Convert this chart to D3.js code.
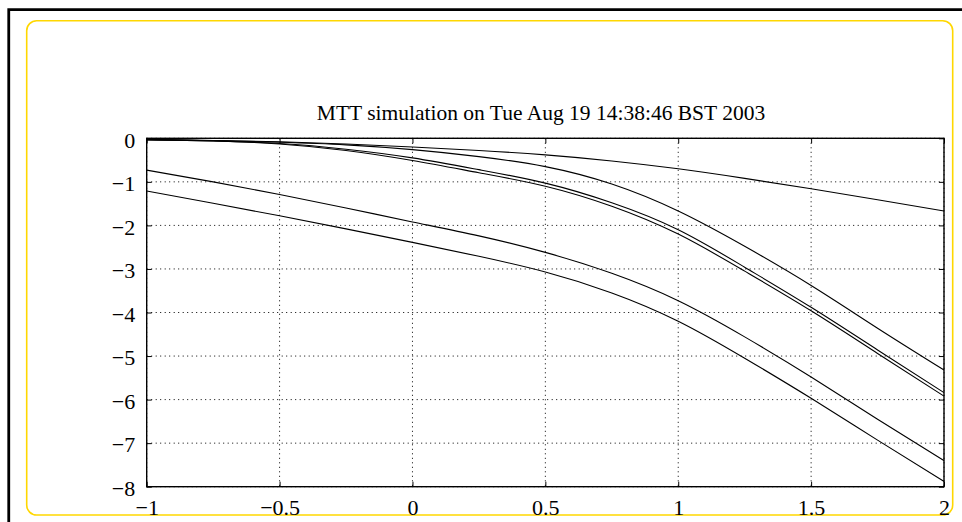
<!DOCTYPE html>
<html>
<head>
<meta charset="utf-8">
<script src="https://cdn.jsdelivr.net/npm/d3@7"></script>
<style>
  body { margin: 0; background: #fff; }
  svg { display: block; }
  text { font-family: "Liberation Serif", "Times New Roman", serif; fill: #000; }
</style>
</head>
<body>
<svg width="962" height="522"></svg>
<script>
// sample points (x) and the six response curves
let xs = [-1, -0.75, -0.5, -0.25, 0, 0.25, 0.5, 0.75, 1, 1.25, 1.5, 1.75, 2]
let curve1 = [-0.03, -0.05, -0.08, -0.13, -0.20, -0.28, -0.38, -0.52, -0.70, -0.92, -1.16, -1.41, -1.67]
let curve2 = [-0.03, -0.05, -0.09, -0.15, -0.26, -0.42, -0.65, -1.05, -1.67, -2.48, -3.38, -4.36, -5.32]
let curve3 = [-0.03, -0.06, -0.12, -0.25, -0.45, -0.72, -1.03, -1.48, -2.10, -2.96, -3.88, -4.86, -5.84]
let curve4 = [-0.03, -0.06, -0.13, -0.28, -0.51, -0.79, -1.10, -1.56, -2.20, -3.05, -3.96, -4.94, -5.92]
let curve5 = [-0.73, -1.00, -1.29, -1.60, -1.92, -2.24, -2.62, -3.10, -3.73, -4.56, -5.48, -6.45, -7.40]
let curve6 = [-1.21, -1.49, -1.78, -2.08, -2.39, -2.71, -3.07, -3.55, -4.20, -5.05, -5.97, -6.93, -7.88]
let curves = [curve1, curve2, curve3, curve4, curve5, curve6]

let xTicks = [-1, -0.5, 0, 0.5, 1, 1.5, 2]
let yTicks = [0, -1, -2, -3, -4, -5, -6, -7, -8]
let title = 'MTT simulation on Tue Aug 19 14:38:46 BST 2003'

let svg = d3.select('svg')

// outer frame bits
svg.append('path')
    .attr('d', 'M8.75,540V9.6H980')
    .style('fill', 'none').style('stroke', '#000').style('stroke-width', 2.8)

svg.append('rect')
    .attr('x', 26.7).attr('y', 20.7).attr('width', 926).attr('height', 494.3)
    .attr('rx', 10).attr('ry', 10)
    .style('fill', 'none').style('stroke', '#ffd700').style('stroke-width', 1.6)

let pL = 146.7, pR = 944, pT = 138.3, pB = 486.7

let x = d3.scaleLinear().domain([-1, 2]).range([pL, pR])
let y = d3.scaleLinear().domain([-8, 0]).range([pB, pT])

let g = svg.append('g')

// dotted grid
g.selectAll('.gx').data(xTicks).enter().append('line')
    .attr('x1', d => x(d)).attr('x2', d => x(d))
    .attr('y1', pT).attr('y2', pB)
    .style('stroke', '#000').style('stroke-width', 1).style('stroke-dasharray', '1,3.5')
g.selectAll('.gy').data(yTicks).enter().append('line')
    .attr('x1', pL).attr('x2', pR)
    .attr('y1', d => y(d)).attr('y2', d => y(d))
    .style('stroke', '#000').style('stroke-width', 1).style('stroke-dasharray', '1,3.5')

// axes: ticks inward on all four sides
let tick = 5
let minus = d => (d < 0 ? '\u2212' : '') + Math.abs(d)
let axes = [
    d3.axisBottom(x).tickValues(xTicks).tickSize(-tick).tickFormat(minus),
    d3.axisTop(x).tickValues(xTicks).tickSize(-tick).tickFormat(''),
    d3.axisLeft(y).tickValues(yTicks).tickSize(-tick).tickFormat(minus),
    d3.axisRight(y).tickValues(yTicks).tickSize(-tick).tickFormat('')
]
let pos = [[0, pB], [0, pT], [pL, 0], [pR, 0]]
let axG = axes.map((a, i) => {
    let ax = g.append('g').attr('transform', `translate(${pos[i][0]},${pos[i][1]})`).call(a)
    ax.select('.domain').remove()
    ax.selectAll('line').style('stroke', '#000').style('stroke-width', 1)
    ax.selectAll('text').style('font-family', '"Liberation Serif", serif').style('font-size', '22px')
    return ax
})

// x labels sit low, y labels a bit right of the default
axG[0].selectAll('text').attr('y', 12.5).attr('dy', '0.71em')
axG[2].selectAll('text').attr('x', -11.5).attr('dy', '0.4em')

g.append('rect')
    .attr('x', pL).attr('y', pT).attr('width', pR - pL).attr('height', pB - pT)
    .style('fill', 'none').style('stroke', '#000').style('stroke-width', 1.4)

let line = d3.line()
    .x((d, i) => x(xs[i]))
    .y(d => y(d))
    .curve(d3.curveNatural)

g.selectAll('.curve').data(curves).enter().append('path')
    .attr('class', 'curve')
    .attr('d', line)
    .style('fill', 'none').style('stroke', '#000').style('stroke-width', 1.1)

svg.append('text')
    .attr('x', 541).attr('y', 119.5)
    .attr('text-anchor', 'middle')
    .style('font-size', '21.5px')
    .text(title)
</script>
</body>
</html>
